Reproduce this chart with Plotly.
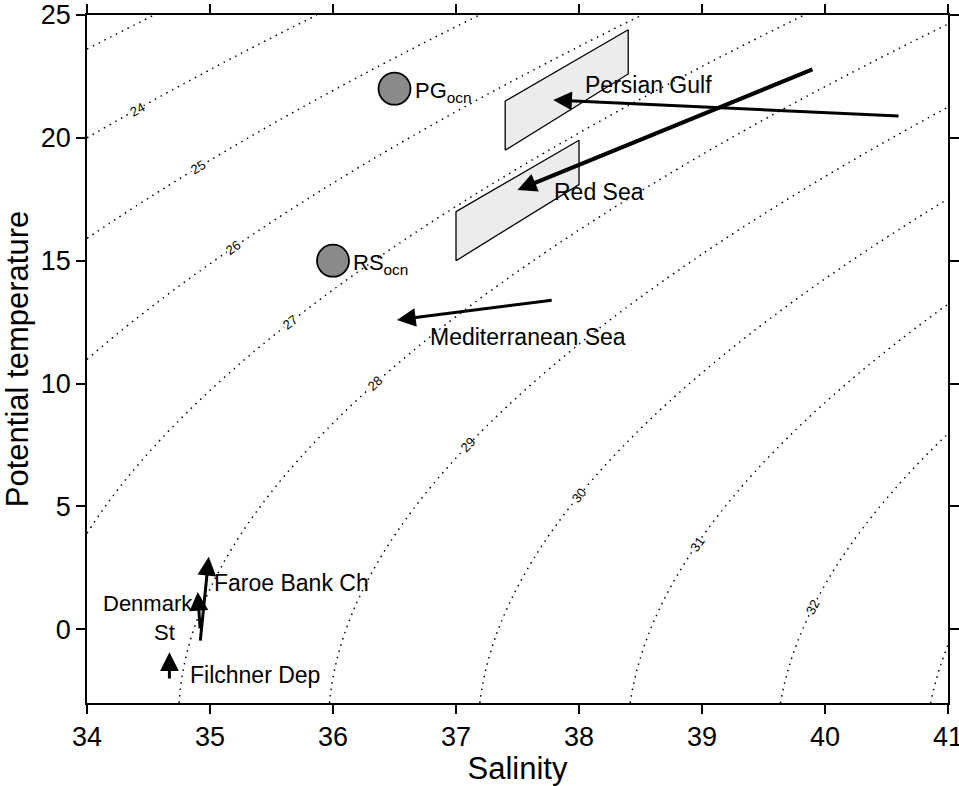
import numpy as np
import plotly.graph_objects as go

# ---------------------------------------------------------------------------
# Axis extents
SAL_RANGE = [34, 41]
TEMP_RANGE = [-3, 25]
SAL_TICKS = [34, 35, 36, 37, 38, 39, 40, 41]
TEMP_TICKS = [0, 5, 10, 15, 20, 25]

# Isopycnals (sigma-theta) and where their labels sit along each line
ISO_START, ISO_END = 23, 33
label_levels = [24, 25, 26, 27, 28, 29, 30, 31, 32]
label_sal = [34.41, 34.90, 35.19, 35.65, 36.34, 37.10, 38.00, 38.96, 39.90]

# Open-ocean reference waters
ocean_names = ["PG", "RS"]
ocean_sal = [36.5, 36.0]
ocean_temp = [22.0, 15.0]

# Source-water boxes
pg_box_sal = [37.4, 37.4, 38.4, 38.4]
pg_box_temp = [19.5, 21.5, 24.4, 22.6]
rs_box_sal = [37.0, 37.0, 38.0, 38.0]
rs_box_temp = [15.0, 17.0, 19.9, 18.1]

# Outflow paths: start (tail) -> end (head)
flow_names = ["Persian Gulf", "Red Sea", "Mediterranean Sea",
              "Faroe Bank Ch", "Denmark St", "Filchner Dep"]
flow_sal0 = [40.61, 39.91, 37.79, 34.92, 34.92, 34.67]
flow_temp0 = [20.89, 22.81, 13.40, -0.52, -0.03, -2.06]
flow_sal1 = [37.79, 37.50, 36.52, 34.99, 34.90, 34.67]
flow_temp1 = [21.54, 17.88, 12.59, 2.95, 1.52, -0.93]
flow_widths = [3, 4, 3, 3, 3, 3]

# Text labels for the outflows
text_labels = ["Persian Gulf", "Red Sea", "Mediterranean Sea", "Faroe Bank Ch",
               "Denmark", "St", "Filchner Dep"]
text_sal = [38.03, 37.78, 36.77, 35.02, 34.88, 34.73, 34.82]
text_temp = [22.15, 17.8, 11.9, 1.89, 1.05, -0.12, -1.86]
text_anchor = ["left", "left", "left", "left", "right", "right", "left"]
text_size = [23, 23, 23, 23, 22, 22, 23]

FONT = "Liberation Sans, Arial, Helvetica, sans-serif"

# Figure geometry
W, H = 959, 786
M = dict(l=87, r=11, t=15, b=83)
PX_PER_S = (W - M["l"] - M["r"]) / (SAL_RANGE[1] - SAL_RANGE[0])
PX_PER_T = (H - M["t"] - M["b"]) / (TEMP_RANGE[1] - TEMP_RANGE[0])


def sigma_t(S, T):
    """UNESCO EOS-80 density at atmospheric pressure, minus 1000 kg/m^3."""
    rw = (999.842594 + 6.793952e-2 * T - 9.095290e-3 * T**2
          + 1.001685e-4 * T**3 - 1.120083e-6 * T**4 + 6.536332e-9 * T**5)
    A = (0.824493 - 4.0899e-3 * T + 7.6438e-5 * T**2
         - 8.2467e-7 * T**3 + 5.3875e-9 * T**4)
    B = -5.72466e-3 + 1.0227e-4 * T - 1.6546e-6 * T**2
    C = 4.8314e-4
    return rw + A * S + B * S**1.5 + C * S**2 - 1000.0


def temp_on_isopycnal(S, level):
    lo, hi = -6.0, 35.0
    for _ in range(80):
        mid = 0.5 * (lo + hi)
        if sigma_t(S, mid) > level:
            lo = mid
        else:
            hi = mid
    return 0.5 * (lo + hi)


sal_grid = np.linspace(SAL_RANGE[0], SAL_RANGE[1], 351)
temp_grid = np.linspace(TEMP_RANGE[0], TEMP_RANGE[1], 351)
Z = sigma_t(sal_grid[None, :], temp_grid[:, None])

fig = go.Figure()

# Density contours
fig.add_trace(go.Contour(
    x=sal_grid, y=temp_grid, z=Z,
    contours=dict(start=ISO_START, end=ISO_END, size=1, coloring="none"),
    line=dict(color="black", width=1.5, dash="1.5px,5px"),
    showscale=False, hoverinfo="skip",
))

# Source-water boxes
for bs, bt in [(pg_box_sal, pg_box_temp), (rs_box_sal, rs_box_temp)]:
    fig.add_trace(go.Scatter(
        x=bs + [bs[0]], y=bt + [bt[0]], mode="lines", fill="toself",
        fillcolor="#ececec", line=dict(color="black", width=1.3),
        hoverinfo="skip", showlegend=False,
    ))

# Open-ocean circles
fig.add_trace(go.Scatter(
    x=ocean_sal, y=ocean_temp, mode="markers",
    marker=dict(size=32, color="#8a8a8a", line=dict(color="black", width=1.8)),
    hoverinfo="skip", showlegend=False,
))

annotations = []

# Circle labels with subscript
for name, s, t in zip(ocean_names, ocean_sal, ocean_temp):
    annotations.append(dict(
        x=s, y=t, xref="x", yref="y", text=f"{name}<sub>ocn</sub>",
        showarrow=False, xanchor="left", yanchor="middle", xshift=18, yshift=-3,
        font=dict(family=FONT, size=22, color="black"),
    ))

# Outflow arrows
for s0, t0, s1, t1, w in zip(flow_sal0, flow_temp0, flow_sal1, flow_temp1, flow_widths):
    annotations.append(dict(
        x=s1, y=t1, ax=s0, ay=t0, xref="x", yref="y", axref="x", ayref="y",
        text="", showarrow=True, arrowhead=2, arrowsize=1.25 if w == 3 else 0.95,
        arrowwidth=w, arrowcolor="black", standoff=0,
    ))

# Outflow text
for txt, s, t, anc, fs in zip(text_labels, text_sal, text_temp, text_anchor, text_size):
    annotations.append(dict(
        x=s, y=t, xref="x", yref="y", text=txt, showarrow=False,
        xanchor=anc, yanchor="middle",
        font=dict(family=FONT, size=fs, color="black"),
    ))

# Isopycnal labels, placed on the lines and rotated along them
for lev, s in zip(label_levels, label_sal):
    t = temp_on_isopycnal(s, lev)
    eps = 1e-3
    dsig_ds = (sigma_t(s + eps, t) - sigma_t(s - eps, t)) / (2 * eps)
    dsig_dt = (sigma_t(s, t + eps) - sigma_t(s, t - eps)) / (2 * eps)
    slope = -dsig_ds / dsig_dt
    ang = -np.degrees(np.arctan2(slope * PX_PER_T, PX_PER_S))
    annotations.append(dict(
        x=s, y=t, xref="x", yref="y", text=str(lev), showarrow=False,
        textangle=float(ang), bgcolor="white", borderpad=0,
        font=dict(family=FONT, size=13, color="black"),
    ))

axis_common = dict(
    showline=True, linecolor="black", linewidth=1.5, mirror="ticks",
    ticks="outside", ticklen=9, tickwidth=1.5, tickcolor="black",
    showgrid=False, zeroline=False, automargin=False,
    ticklabeloverflow="allow",
    tickfont=dict(family=FONT, size=27, color="black"),
)

fig.update_layout(
    width=W, height=H, margin=M,
    paper_bgcolor="white", plot_bgcolor="white",
    showlegend=False,
    annotations=annotations,
    xaxis=dict(range=SAL_RANGE, tickvals=SAL_TICKS,
               title=dict(text="Salinity", standoff=2,
                          font=dict(family=FONT, size=31, color="black")),
               **axis_common),
    yaxis=dict(range=TEMP_RANGE, tickvals=TEMP_TICKS,
               title=dict(text="Potential temperature", standoff=6,
                          font=dict(family=FONT, size=31, color="black")),
               **axis_common),
)

fig.write_html("out.html")
